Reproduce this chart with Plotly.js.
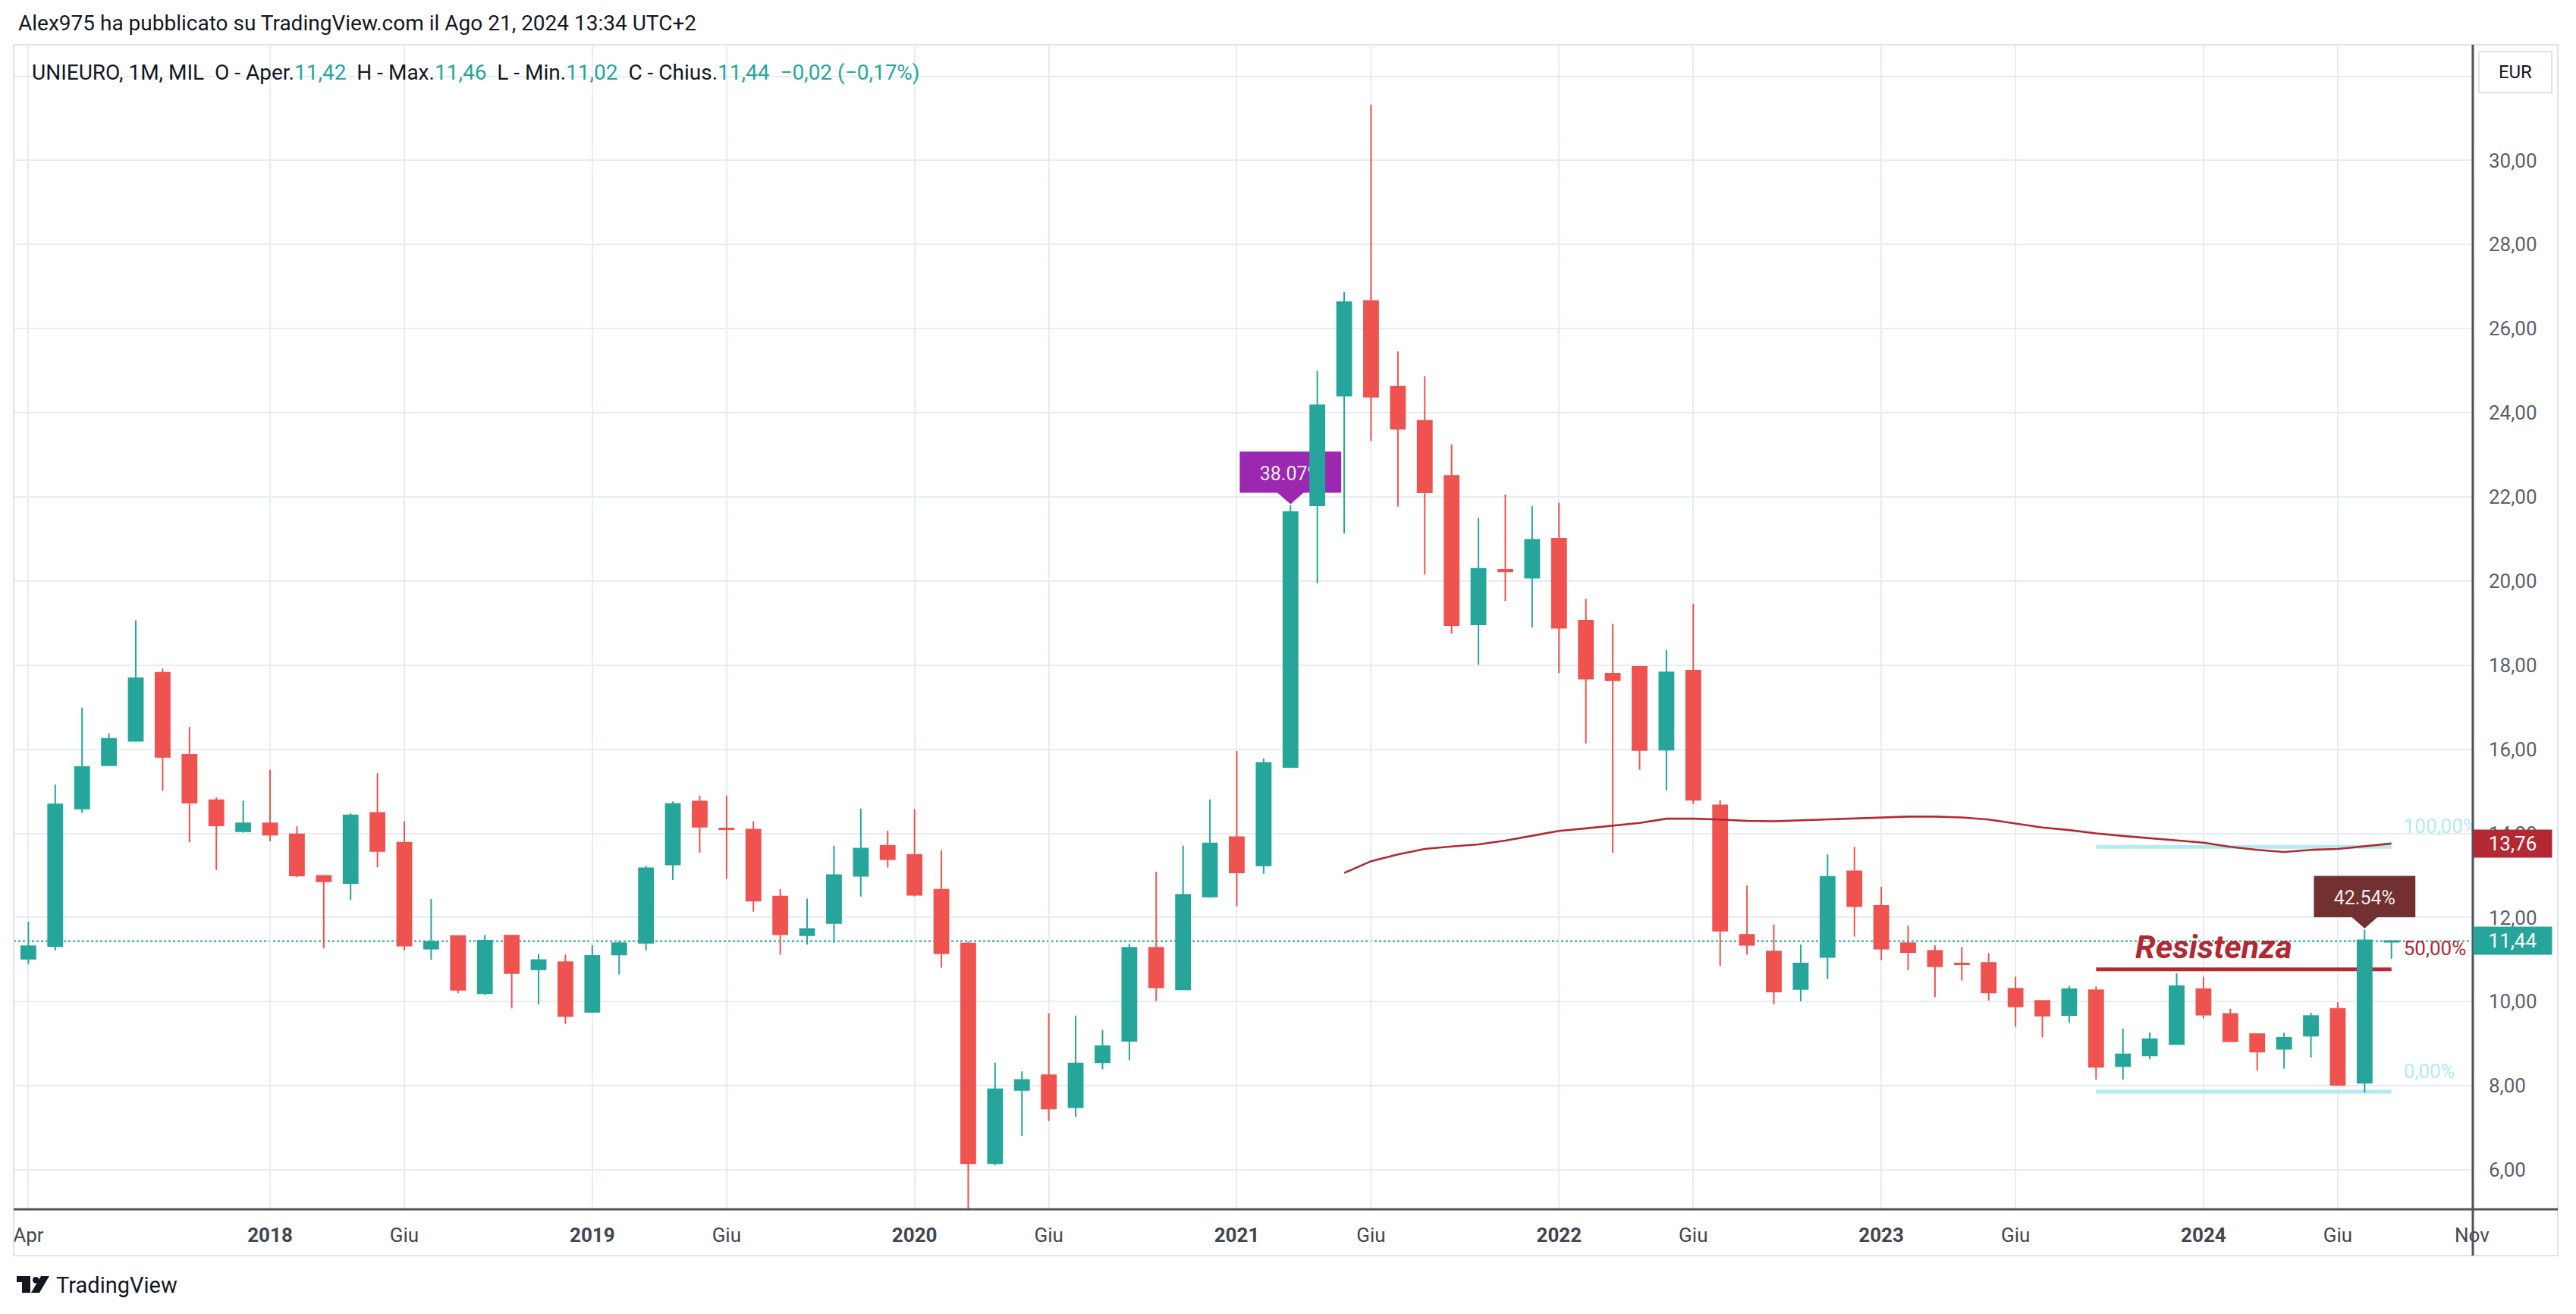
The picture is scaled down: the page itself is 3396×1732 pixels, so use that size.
<!DOCTYPE html>
<html><head><meta charset="utf-8">
<script src="https://cdn.plot.ly/plotly-3.0.1.min.js"></script>
<style>html,body{margin:0;padding:0;background:#fff;}#chart{width:3396px;height:1732px;}</style>
</head><body><div id="chart"></div>
<script>
// ---- DATA (monthly candles, UNIEURO, MIL) ----
const months = [
 '2017-04','2017-05','2017-06','2017-07','2017-08','2017-09','2017-10','2017-11','2017-12',
 '2018-01','2018-02','2018-03','2018-04','2018-05','2018-06','2018-07','2018-08','2018-09','2018-10','2018-11','2018-12',
 '2019-01','2019-02','2019-03','2019-04','2019-05','2019-06','2019-07','2019-08','2019-09','2019-10','2019-11','2019-12',
 '2020-01','2020-02','2020-03','2020-04','2020-05','2020-06','2020-07','2020-08','2020-09','2020-10','2020-11','2020-12',
 '2021-01','2021-02','2021-03','2021-04','2021-05','2021-06','2021-07','2021-08','2021-09','2021-10','2021-11','2021-12',
 '2022-01','2022-02','2022-03','2022-04','2022-05','2022-06','2022-07','2022-08','2022-09','2022-10','2022-11','2022-12',
 '2023-01','2023-02','2023-03','2023-04','2023-05','2023-06','2023-07','2023-08','2023-09','2023-10','2023-11','2023-12',
 '2024-01','2024-02','2024-03','2024-04','2024-05','2024-06','2024-07','2024-08'];
const openVals = [
 11.02,11.32,14.59,15.62,16.20,17.82,15.87,14.79,14.05,
 14.24,13.98,12.99,12.82,14.49,13.78,11.26,11.56,10.20,11.57,10.77,10.94,
 9.76,11.12,11.40,13.26,14.76,14.12,14.09,12.50,11.58,11.87,12.99,13.71,
 13.49,12.66,11.38,6.16,7.90,8.25,7.49,8.56,9.07,11.28,10.29,12.50,
 13.91,13.24,15.58,21.80,24.41,26.66,24.62,23.81,22.50,18.97,20.27,20.08,
 21.01,19.06,17.80,17.96,15.99,17.87,14.67,11.59,11.19,10.30,11.06,13.10,
 12.28,11.39,11.21,10.91,10.92,10.31,10.02,9.68,10.27,8.47,8.72,8.99,
 10.30,9.71,9.23,8.88,9.19,9.83,8.07,11.42];
const highVals = [
 11.90,15.16,16.99,16.38,19.07,17.92,16.53,14.86,14.78,
 15.51,14.17,13.00,14.48,15.43,14.29,12.44,11.57,11.59,11.58,11.14,11.12,
 11.34,11.44,13.23,14.76,14.90,14.90,14.29,12.68,12.45,13.71,14.59,14.07,
 14.58,13.60,11.43,8.55,8.34,9.72,9.67,9.33,11.38,13.09,13.71,14.81,
 15.96,15.78,21.80,25.00,26.87,31.33,25.46,24.87,23.25,21.50,22.06,21.78,
 21.86,19.58,18.99,17.97,18.36,19.46,14.79,12.76,11.83,11.36,13.50,13.68,
 12.73,11.81,11.34,11.30,11.15,10.59,10.03,10.37,10.36,9.36,9.27,10.68,
 10.59,9.83,9.24,9.26,9.74,9.99,11.71,11.46];
const lowVals = [
 10.89,11.22,14.49,15.60,16.18,15.01,13.79,13.13,14.02,
 13.81,12.96,11.27,12.42,13.20,11.22,11.00,10.20,10.16,9.84,9.94,9.47,
 9.73,10.65,11.22,12.89,13.54,12.92,12.14,11.11,11.36,11.40,12.50,13.19,
 12.50,10.81,4.90,6.11,6.81,7.16,7.26,8.39,8.61,10.02,10.27,12.47,
 12.27,13.04,15.55,19.95,21.13,23.33,21.77,20.15,18.75,18.01,19.53,18.90,
 17.81,16.14,13.54,15.51,15.02,14.70,10.85,11.12,9.94,10.01,10.54,11.55,
 10.99,10.75,10.11,10.50,10.03,9.40,9.15,9.49,8.15,8.15,8.63,8.97,
 9.60,9.05,8.36,8.41,8.67,8.00,7.84,11.02];
const closeVals = [
 11.32,14.69,15.58,16.25,17.69,15.82,14.73,14.19,14.24,
 13.97,13.00,12.86,14.43,13.58,11.33,11.42,10.28,11.45,10.68,10.99,9.66,
 11.09,11.39,13.17,14.70,14.16,14.10,12.40,11.60,11.73,13.01,13.64,13.39,
 12.54,11.15,6.16,7.92,8.14,7.46,8.53,8.94,11.28,10.34,12.54,13.76,
 13.07,15.68,21.64,24.18,26.63,24.38,23.62,22.11,18.95,20.29,20.23,20.98,
 18.89,17.68,17.64,15.98,17.83,14.80,11.69,11.35,10.24,10.91,12.97,12.27,
 11.26,11.18,10.84,10.89,10.22,9.89,9.67,10.30,8.45,8.75,9.11,10.37,
 9.69,9.06,8.81,9.14,9.66,8.02,11.46,11.44];
// moving average, first value at 2021-05
const smaFirstMonth = '2021-05';
const smaVals = [
 13.06,13.34,13.50,13.63,13.69,13.74,13.83,13.94,
 14.06,14.12,14.19,14.25,14.35,14.35,14.33,14.30,14.29,14.31,14.33,14.36,
 14.37,14.40,14.40,14.38,14.33,14.24,14.14,14.08,14.00,13.94,13.89,13.84,
 13.78,13.68,13.61,13.56,13.61,13.63,13.70,13.76];
// Fibonacci retracement
const fibStartMonth = '2023-09', fibEndMonth = '2024-08';
const fibLevels = [13.68, 10.77, 7.86];
const fibLabels = ['100,00%', '50,00%', '0,00%'];
// callouts
const calloutMonths = ['2021-03', '2024-07'];
const calloutTexts = ['38.07%', '42.54%'];
// axis ticks
const xTickMonths = ['2017-04','2018-01','2018-06','2019-01','2019-06','2020-01','2020-06','2021-01','2021-06','2022-01','2022-06','2023-01','2023-06','2024-01','2024-06','2024-11'];
const xTickText = ['Apr','<b>2018</b>','Giu','<b>2019</b>','Giu','<b>2020</b>','Giu','<b>2021</b>','Giu','<b>2022</b>','Giu','<b>2023</b>','Giu','<b>2024</b>','Giu','Nov'];
const yGridVals = [6,8,10,12,14,16,18,20,22,24,26,28,30,32];
const yLabelMax = 30;

// ---- helpers ----
function mIdx(s){const [y,m]=s.split('-').map(Number);return (y-2017)*12+(m-4);}
const xIdx = months.map(mIdx);
const fmt = v => v.toFixed(2).replace('.', ',');
const GREEN='#26a69a', RED='#ef5350', DARKRED='#b22833';
const PL=18, PR=3260, PT=59, PB=1594;
const px = X => (X-PL)/(PR-PL);
const py = Y => (PB-Y)/(PB-PT);

const smaStart = mIdx(smaFirstMonth);
const smaX = smaVals.map((_,k)=>smaStart+k);

const traces = [
 {type:'candlestick', x:xIdx, open:openVals, high:highVals, low:lowVals, close:closeVals,
  increasing:{line:{color:GREEN,width:2},fillcolor:GREEN},
  decreasing:{line:{color:RED,width:2},fillcolor:RED},
  whiskerwidth:0, hoverinfo:'none', showlegend:false},
 {type:'scatter', mode:'lines', x:smaX, y:smaVals, line:{color:DARKRED,width:2.6}, hoverinfo:'none', showlegend:false},
 {type:'scatter', mode:'text', x:fibLevels.map(()=>mIdx(fibEndMonth)+0.45), y:fibLevels.map(v=>v+0.45),
  text:fibLabels, textposition:'middle right', cliponaxis:true,
  textfont:{family:'Roboto', size:26, color:['#b2ebf2',DARKRED,'#b2ebf2']}, hoverinfo:'none', showlegend:false}
];

const shapes = [];
const last = closeVals.length-1;
shapes.push({type:'line', xref:'paper', x0:0, x1:1, yref:'y', y0:closeVals[last], y1:closeVals[last], layer:'between',
  line:{color:GREEN, width:2, dash:'dot'}});
fibLevels.forEach((v,i)=>{
  shapes.push({type:'line', x0:mIdx(fibStartMonth), x1:mIdx(fibEndMonth), y0:v, y1:v, layer:'between',
   line:{color: i===1?DARKRED:'#b2ebf2', width:5}});
});
calloutMonths.forEach((m,k)=>{
  const i = mIdx(m), h = highVals[i];
  const col = k===0 ? '#9c27b0' : '#733030';
  const layer = k===0 ? 'between' : 'above';
  shapes.push({type:'path', layer:layer, path:`M ${i-0.5},${h+0.31} L ${i+0.5},${h+0.31} L ${i},${h+0.03} Z`, fillcolor:col, line:{width:0}});
  shapes.push({type:'rect', layer:layer, x0:i-1.89, x1:i+1.89, y0:h+0.30, y1:h+1.28, fillcolor:col, line:{width:0},
    label:{text:calloutTexts[k], font:{family:'Roboto', size:25, color:'#ececec'}, textposition:'middle center'}});
});
shapes.push({type:'rect', xref:'paper', yref:'paper', x0:0, x1:px(3372), y0:py(1655), y1:1, line:{color:'#e0e3eb', width:2}, layer:'above'});
shapes.push({type:'line', xref:'paper', yref:'paper', x0:0, x1:px(3372), y0:0, y1:0, line:{color:'#50535e', width:3}, layer:'above'});
shapes.push({type:'line', xref:'paper', yref:'paper', x0:1, x1:1, y0:py(1655), y1:1, line:{color:'#50535e', width:3}, layer:'above'});
const P = pts => 'M ' + pts.map(p=>px(p[0])+','+py(p[1])).join(' L ') + ' Z';
shapes.push({type:'path', xref:'paper', yref:'paper', path:P([[22,1682],[40,1682],[40,1704],[29,1704],[29,1690],[22,1690]]), fillcolor:'#131722', line:{width:0}, layer:'above'});
shapes.push({type:'circle', xref:'paper', yref:'paper', x0:px(43), x1:px(51.5), y0:py(1683), y1:py(1691.5), fillcolor:'#131722', line:{width:0}, layer:'above'});
shapes.push({type:'path', xref:'paper', yref:'paper', path:P([[41,1704],[52,1704],[65,1682],[54,1682]]), fillcolor:'#131722', line:{width:0}, layer:'above'});

const C = s => `<span style="color:${GREEN}">${s}</span>`;
const chg = closeVals[last]-closeVals[last-1];
const pct = chg/closeVals[last-1]*100;
const sgn = v => (v<0?'\u2212':'+') + fmt(Math.abs(v));
const sp = '\u00a0\u00a0';
const legendText = 'UNIEURO, 1M, MIL' + sp + 'O - Aper.' + C(fmt(openVals[last])) + sp + 'H - Max.' + C(fmt(highVals[last])) + sp +
  'L - Min.' + C(fmt(lowVals[last])) + sp + 'C - Chius.' + C(fmt(closeVals[last])) + sp + C(sgn(chg) + ' (' + sgn(pct) + '%)');

const annotations = [
 {xref:'paper', yref:'paper', x:px(22), y:py(30), xanchor:'left', yanchor:'middle', showarrow:false,
  text:'Alex975 ha pubblicato su TradingView.com il Ago 21, 2024 13:34 UTC+2', font:{size:28, color:'#131722'}},
 {xref:'paper', yref:'paper', x:px(40), y:py(95), xanchor:'left', yanchor:'middle', showarrow:false,
  text:legendText, font:{size:28, color:'#131722'}},
 {x:81.39, y:11.30, xanchor:'center', yanchor:'middle', showarrow:false,
  text:'<b><i>Resistenza</i></b>', font:{size:43, color:DARKRED}},
 {xref:'paper', yref:'paper', x:px(3316), y:py(95), xanchor:'center', yanchor:'middle', showarrow:false,
  text:'EUR', width:92, height:50, bgcolor:'#ffffff', bordercolor:'#e0e3eb', borderwidth:2, font:{size:24, color:'#131722'}},
 {xref:'paper', yref:'y', x:px(3312.5), y:smaVals[smaVals.length-1], xanchor:'center', yanchor:'middle', showarrow:false,
  text:fmt(smaVals[smaVals.length-1]), width:101, height:34, bgcolor:DARKRED, font:{size:26, color:'#ffffff'}},
 {xref:'paper', yref:'y', x:px(3312.5), y:closeVals[last], xanchor:'center', yanchor:'middle', showarrow:false,
  text:fmt(closeVals[last]), width:101, height:34, bgcolor:GREEN, font:{size:26, color:'#ffffff'}},
 {xref:'paper', yref:'paper', x:px(72), y:py(1694), xanchor:'left', yanchor:'middle', showarrow:false,
  text:'TradingView', font:{size:29, color:'#131722'}}
];

const layout = {
 width:3396, height:1732,
 margin:{l:PL, r:3396-PR, t:PT, b:1732-PB, pad:0},
 paper_bgcolor:'#ffffff', plot_bgcolor:'#ffffff',
 font:{family:'Roboto, "Noto Sans", sans-serif', color:'#131722'},
 separators:',.',
 showlegend:false,
 boxgap:0.24,
 xaxis:{type:'linear', range:[-0.548, 91.03], tickvals:xTickMonths.map(mIdx), ticktext:xTickText,
   showgrid:true, gridcolor:'#e6edf3', gridwidth:2, zeroline:false, showline:false, ticks:'',
   tickfont:{size:26, color:'#434651'}, ticklabelstandoff:16, rangeslider:{visible:false}, fixedrange:true},
 yaxis:{side:'right', range:[5.064, 32.75], tickvals:yGridVals, ticktext:yGridVals.map(v=> v>yLabelMax ? '' : fmt(v)),
   showgrid:true, gridcolor:'#e6edf3', gridwidth:2, zeroline:false, showline:false, ticks:'',
   tickfont:{size:26, color:'#5d606b'}, ticklabelstandoff:20, fixedrange:true},
 shapes:shapes,
 annotations:annotations
};
Plotly.newPlot('chart', traces, layout, {staticPlot:true, displayModeBar:false});
</script></body></html>
